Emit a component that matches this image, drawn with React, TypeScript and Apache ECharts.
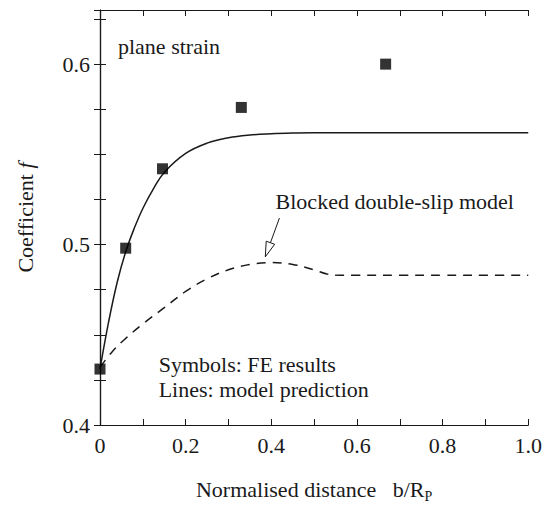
import React, { useEffect, useRef } from "react";
import * as echarts from "echarts";

const xSolid = [0, 0.02, 0.04, 0.06, 0.08, 0.1, 0.125, 0.15, 0.2, 0.25, 0.3, 0.35, 0.4, 0.45, 0.5, 0.6, 0.7, 0.8, 0.9, 1.0];
const ySolid = [0.431, 0.457, 0.479, 0.496, 0.509, 0.52, 0.531, 0.54, 0.5505, 0.5562, 0.5592, 0.5607, 0.5614, 0.5618, 0.562, 0.562, 0.562, 0.562, 0.562, 0.562];

const xDash = [0, 0.03, 0.06, 0.1, 0.15, 0.2, 0.25, 0.3, 0.35, 0.4, 0.45, 0.5, 0.53, 0.56, 0.6, 0.7, 0.8, 0.9, 1.0];
const yDash = [0.432, 0.441, 0.448, 0.456, 0.465, 0.474, 0.481, 0.486, 0.489, 0.49, 0.489, 0.486, 0.4837, 0.483, 0.483, 0.483, 0.483, 0.483, 0.483];

const xFE = [0, 0.06, 0.146, 0.33, 0.667];
const yFE = [0.431, 0.498, 0.542, 0.576, 0.6];

const FONT = "Liberation Serif";
const INK = "#1a1a1a";

export default function App() {
  const ref = useRef<HTMLDivElement>(null);
  useEffect(() => {
    if (!ref.current) return;
    const chart = echarts.init(ref.current, undefined, { renderer: "svg" });
    const tickStyle = { show: true, inside: true, length: 6, lineStyle: { color: INK, width: 1 } };
    const axisLine = { show: true, lineStyle: { color: INK, width: 1.2 } };
    chart.setOption({
      animation: false,
      backgroundColor: "#fff",
      grid: { left: 100, right: 15, top: 10, bottom: 85 },
      xAxis: [
        {
          type: "value",
          min: 0,
          max: 1,
          interval: 0.1,
          axisLine,
          axisTick: tickStyle,
          splitLine: { show: false },
          axisLabel: {
            margin: 9,
            color: INK,
            fontFamily: FONT,
            fontSize: 22,
            formatter: (v: number) => {
              const k = Math.round(v * 10);
              if (k % 2 !== 0) return "";
              return k === 0 ? "0" : (k / 10).toFixed(1);
            },
          },
          name: "{a|Normalised distance   b/R}{s|P}",
          nameLocation: "middle",
          nameGap: 50,
          nameTextStyle: {
            rich: {
              a: { fontFamily: FONT, fontSize: 22, color: INK },
              s: { fontFamily: FONT, fontSize: 14, color: INK, padding: [14, 0, 0, 0] },
            },
          },
        },
        {
          type: "value",
          position: "top",
          min: 0,
          max: 1,
          interval: 0.1,
          axisLine,
          axisTick: tickStyle,
          axisLabel: { show: false },
          splitLine: { show: false },
        },
      ],
      yAxis: [
        {
          type: "value",
          min: 0.4,
          max: 0.63,
          interval: 0.025,
          axisLine,
          axisTick: tickStyle,
          splitLine: { show: false },
          axisLabel: {
            margin: 10,
            color: INK,
            fontFamily: FONT,
            fontSize: 22,
            formatter: (v: number) => {
              const t = v * 10;
              if (Math.abs(t - Math.round(t)) > 1e-6) return "";
              if (v > 0.61) return "";
              return v.toFixed(1);
            },
          },
          name: "{a|Coefficient }{i|f}",
          nameLocation: "middle",
          nameGap: 64,
          nameRotate: 90,
          nameTextStyle: {
            rich: {
              a: { fontFamily: FONT, fontSize: 22, color: INK },
              i: { fontFamily: FONT, fontSize: 22, fontStyle: "italic", color: INK },
            },
          },
        },
        {
          type: "value",
          position: "right",
          min: 0.4,
          max: 0.63,
          interval: 0.025,
          axisLine,
          axisTick: tickStyle,
          axisLabel: { show: false },
          splitLine: { show: false },
        },
      ],
      series: [
        {
          name: "model",
          type: "line",
          data: xSolid.map((x, i) => [x, ySolid[i]]),
          smooth: 0.4,
          showSymbol: false,
          symbol: "none",
          lineStyle: { color: INK, width: 1.5 },
        },
        {
          name: "blocked",
          type: "line",
          data: xDash.map((x, i) => [x, yDash[i]]),
          smooth: 0.4,
          showSymbol: false,
          symbol: "none",
          lineStyle: { color: INK, width: 1.5, type: [9, 7] },
        },
        {
          name: "FE",
          type: "scatter",
          data: xFE.map((x, i) => [x, yFE[i]]),
          symbol: "rect",
          symbolSize: 11,
          itemStyle: { color: "#000" },
          clip: false,
          z: 5,
        },
      ],
    });

    const px = (x: number, y: number) => chart.convertToPixel({ gridIndex: 0 }, [x, y]) as number[];
    const txt = (x: number, y: number, s: string) => {
      const p = px(x, y);
      return {
        type: "text",
        x: p[0],
        y: p[1],
        style: { text: s, fontFamily: FONT, fontSize: 22, fill: INK, textVerticalAlign: "middle", verticalAlign: "middle" },
      };
    };
    const start = px(0.419, 0.5147);
    const tip = px(0.386, 0.4932);
    const dx = tip[0] - start[0];
    const dy = tip[1] - start[1];
    const len = Math.sqrt(dx * dx + dy * dy);
    const ux = dx / len;
    const uy = dy / len;
    const headLen = 15;
    const half = 4.5;
    const bx = tip[0] - ux * headLen;
    const by = tip[1] - uy * headLen;
    chart.setOption({
      graphic: [
        txt(0.042, 0.6095, "plane strain"),
        txt(0.41, 0.524, "Blocked double-slip model"),
        txt(0.137, 0.4338, "Symbols: FE results"),
        txt(0.137, 0.4194, "Lines: model prediction"),
        {
          type: "line",
          shape: { x1: start[0], y1: start[1], x2: bx, y2: by },
          style: { stroke: INK, lineWidth: 1 },
        },
        {
          type: "polygon",
          shape: {
            points: [
              [tip[0], tip[1]],
              [bx - uy * half, by + ux * half],
              [bx + uy * half, by - ux * half],
            ],
          },
          style: { fill: "#fff", stroke: INK, lineWidth: 1 },
        },
      ],
    });
    return () => chart.dispose();
  }, []);
  return <div ref={ref} style={{ position: "fixed", left: 0, top: 0, width: 545, height: 510 }} />;
}
